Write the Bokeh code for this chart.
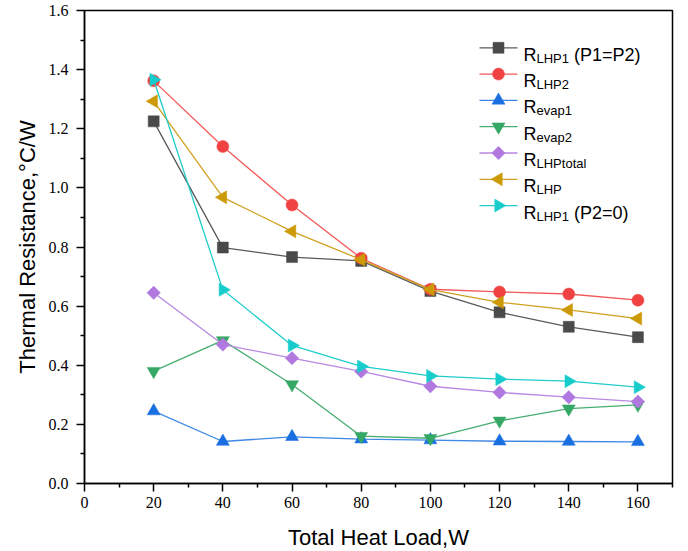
import math
from bokeh.plotting import figure
from bokeh.models import Range1d, FixedTicker, PrintfTickFormatter
from bokeh.core.properties import value
from bokeh.embed import file_html
from bokeh.resources import INLINE

# ---------------- data ----------------
heat_load = [20, 40, 60, 80, 100, 120, 140, 160]
r_lhp1_p1p2 = [1.225, 0.798, 0.766, 0.753, 0.651, 0.579, 0.530, 0.495]
r_lhp2 = [1.362, 1.140, 0.942, 0.762, 0.657, 0.648, 0.641, 0.620]
r_evap1 = [0.245, 0.142, 0.158, 0.150, 0.147, 0.143, 0.142, 0.141]
r_evap2 = [0.380, 0.484, 0.335, 0.160, 0.153, 0.212, 0.253, 0.266]
r_lhptotal = [0.645, 0.470, 0.424, 0.379, 0.329, 0.308, 0.292, 0.277]
r_lhp = [1.293, 0.968, 0.853, 0.757, 0.656, 0.613, 0.587, 0.558]
r_lhp1_p20 = [1.366, 0.655, 0.467, 0.396, 0.364, 0.353, 0.346, 0.326]

x_ticks = [0, 20, 40, 60, 80, 100, 120, 140, 160]
x_minor = [10, 30, 50, 70, 90, 110, 130, 150, 170]
y_ticks = [0.0, 0.2, 0.4, 0.6, 0.8, 1.0, 1.2, 1.4, 1.6]
y_minor = [0.1, 0.3, 0.5, 0.7, 0.9, 1.1, 1.3, 1.5]

legend_main = ["R", "R", "R", "R", "R", "R", "R"]
legend_sub = ["LHP1", "LHP2", "evap1", "evap2", "LHPtotal", "LHP", "LHP1"]
legend_suffix = ["(P1=P2)", "", "", "", "", "", "(P2=0)"]

# ---------------- layout ----------------
X0, X1 = 0, 170
Y0, Y1 = 0, 1.6
FL, FR, FT, FB = 84, 672, 10, 483  # frame in page pixels
W, H = 688, 551

p = figure(width=W, height=H, output_backend="svg", toolbar_location=None,
           x_range=Range1d(X0, X1), y_range=Range1d(Y0, Y1),
           min_border_left=FL, min_border_right=W - FR,
           min_border_top=FT, min_border_bottom=H - FB)
p.frame_width = FR - FL
p.frame_height = FB - FT
p.background_fill_color = "white"
p.border_fill_color = "white"
p.outline_line_color = "black"
p.outline_line_width = 1.5
p.xgrid.visible = False
p.ygrid.visible = False

p.xaxis.ticker = FixedTicker(ticks=x_ticks, minor_ticks=x_minor)
p.yaxis.ticker = FixedTicker(ticks=y_ticks, minor_ticks=y_minor)
p.yaxis.formatter = PrintfTickFormatter(format="%.1f")
p.xaxis.formatter = PrintfTickFormatter(format="%d")

for ax in (p.xaxis, p.yaxis):
    ax.axis_line_color = "black"
    ax.axis_line_width = 1.5
    ax.major_tick_line_color = "black"
    ax.major_tick_line_width = 1.5
    ax.minor_tick_line_color = "black"
    ax.minor_tick_line_width = 1.5
    ax.major_tick_in = 0
    ax.major_tick_out = 8
    ax.minor_tick_in = 0
    ax.minor_tick_out = 4
    ax.major_label_text_font = "serif"
    ax.major_label_text_font_size = "16px"
    ax.major_label_text_color = "black"
    ax.axis_label_text_font = "Liberation Sans"
    ax.axis_label_text_font_size = "22px"
    ax.axis_label_text_font_style = "normal"
    ax.axis_label_text_color = "black"

p.xaxis.axis_label = "Total Heat Load,W"
p.yaxis.axis_label = "Thermal Resistance,°C/W"
p.xaxis.major_label_standoff = 5
p.yaxis.major_label_standoff = 8
p.xaxis.axis_label_standoff = 14
p.yaxis.axis_label_standoff = 6

series = [
    (r_lhp1_p1p2, "#4a4a4a", "#5a5a5a", "square", 11, 0.0),
    (r_lhp2, "#f04242", "#f25858", "circle", 12, 0.0),
    (r_evap1, "#1a6fe0", "#4088e6", "triangle", 13, 0.0),
    (r_evap2, "#36a865", "#45ad70", "inverted_triangle", 13, 0.0),
    (r_lhptotal, "#b178e0", "#b888e2", "square", 9.5, math.pi / 4),
    (r_lhp, "#cc9a06", "#d0a020", "triangle", 13, math.pi / 2),
    (r_lhp1_p20, "#18cccc", "#20cccc", "triangle", 13, -math.pi / 2),
]

for ys, mcol, lcol, marker, size, ang in series:
    p.line(heat_load, ys, line_color=lcol, line_width=1.3)
    p.scatter(heat_load, ys, marker=marker, size=size, angle=ang,
              fill_color=mcol, line_color=mcol, line_width=0.5)

# ---------------- legend (drawn manually for subscripts) ----------------
def dx(px):
    return X0 + (px - FL) * (X1 - X0) / (FR - FL)


def dy(py):
    return Y0 + (FB - py) * (Y1 - Y0) / (FB - FT)


AW = {"R": .722, "L": .556, "H": .722, "P": .667, "1": .556, "2": .556, "0": .556,
      "e": .556, "v": .5, "a": .556, "p": .556, "t": .278, "o": .556, "l": .222,
      " ": .278, "(": .333, ")": .333, "=": .584}


def tw(s, fs):
    return sum(AW.get(c, .556) for c in s) * fs


row0, step = 47.3, 26.3
lx0, lx1, mx = 479, 517, 498
tx = 523
FS_MAIN, FS_SUB = 18, 13
for i, (ys, mcol, lcol, marker, size, ang) in enumerate(series):
    c = row0 + i * step
    p.line([dx(lx0), dx(lx1)], [dy(c), dy(c)], line_color=lcol, line_width=1.3)
    p.scatter([dx(mx)], [dy(c)], marker=marker, size=size, angle=ang,
              fill_color=mcol, line_color=mcol, line_width=0.5)
    xm = tx
    p.text([dx(xm)], [dy(c + 7)], text=[legend_main[i]], text_align="left",
           text_baseline="alphabetic", text_font=value("Liberation Sans"),
           text_font_size="18px", text_color="black")
    xs = xm + tw(legend_main[i], FS_MAIN)
    p.text([dx(xs)], [dy(c + 10.5)], text=[legend_sub[i]], text_align="left",
           text_baseline="alphabetic", text_font=value("Liberation Sans"),
           text_font_size="13px", text_color="black")
    if legend_suffix[i]:
        xf = xs + tw(legend_sub[i], FS_SUB) + tw(" ", FS_MAIN)
        p.text([dx(xf)], [dy(c + 7)], text=[legend_suffix[i]], text_align="left",
               text_baseline="alphabetic", text_font=value("Liberation Sans"),
               text_font_size="18px", text_color="black")

open("out.html", "w").write(file_html(p, INLINE))
